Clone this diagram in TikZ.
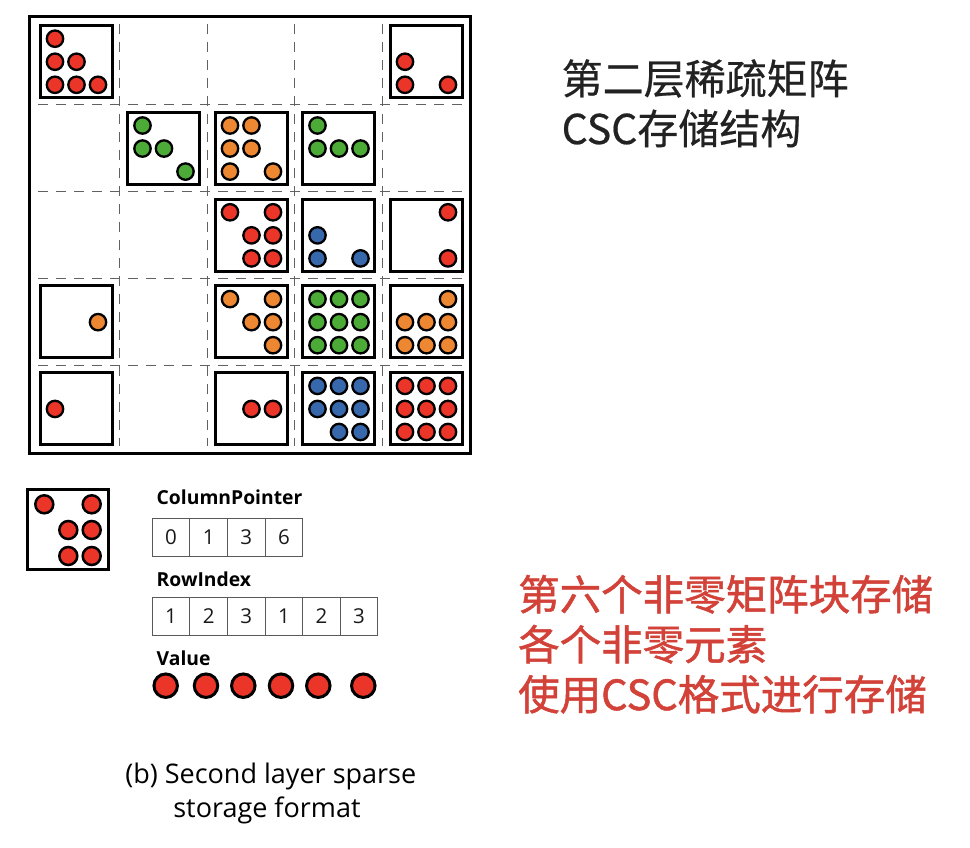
\documentclass[tikz,border=0pt]{standalone}
\usepackage{fontspec}
\setmainfont{Open Sans}
\newfontfamily\cjk[FakeBold=0.5]{Noto Sans CJK SC}
\newfontfamily\cjkred[FakeBold=1.2]{Noto Sans CJK SC}
\definecolor{dred}{RGB}{234,53,40}
\definecolor{dorange}{RGB}{238,135,50}
\definecolor{dgreen}{RGB}{76,170,54}
\definecolor{dblue}{RGB}{56,104,172}
\definecolor{tred}{RGB}{210,66,56}
\definecolor{tdark}{RGB}{34,34,34}
\newcommand{\spblk}[4]{%
  \node[blkbox] (b#1#2) at ({38.5+87.5*#2+37.5},{24+86.8*#1+37.5}) {};
  \foreach \i/\j in {#4} {
    \node[gdot, fill=#3] (d#1#2\i\j) at ({38.5+87.5*#2+16.5+21.5*\j},{24+86.8*#1+14.7+23.05*\i}) {};
  }%
}
\begin{document}
\begin{tikzpicture}[x=1pt,y=-1pt,
  blkbox/.style={draw=black, line width=3pt, minimum size=72pt, inner sep=0pt},
  gdot/.style={circle, draw=black, line width=2.3pt, minimum size=16.4pt, inner sep=0pt},
  ldot/.style={circle, draw=black, line width=2.5pt, minimum size=18pt, inner sep=0pt, fill=dred},
  vdot/.style={circle, draw=black, line width=3pt, minimum size=23.5pt, inner sep=0pt, fill=dred},
  gridline/.style={draw=black!62, line width=1.2pt, dash pattern=on 10pt off 8pt},
  tcell/.style={draw=black!65, line width=1pt, minimum width=37.6pt, minimum height=37.7pt, inner sep=0pt, font=\fontsize{20.5}{24}\selectfont, text=black!90},
  lbl/.style={anchor=base west, inner sep=0pt, font=\fontsize{19.3}{22}\selectfont\bfseries},
  cjkt/.style={anchor=base west, inner sep=0pt, font=\cjk\fontsize{41}{50}\selectfont, text=tdark},
  cjkr/.style={anchor=base west, inner sep=0pt, font=\cjkred\fontsize{41.5}{50}\selectfont, text=tred},
  captext/.style={anchor=base, inner sep=0pt, font=\fontsize{27}{32}\selectfont}
]
\useasboundingbox (0,0) rectangle (970,848);
\fill[white] (0,0) rectangle (970,848);
% outer frame
\draw[line width=3.2pt] (29.8,16.5) rectangle (470.2,453.5);
% dashed grid
\foreach \k in {0,...,3} {
  \draw[gridline] ({119.75+87.5*\k},24) -- ({119.75+87.5*\k},446);
  \draw[gridline] (38,{104.9+86.8*\k}) -- (462,{104.9+86.8*\k});
}
% blocks
\spblk{0}{0}{dred}{0/0,1/0,1/1,2/0,2/1,2/2}
\spblk{0}{4}{dred}{1/0,2/0,2/2}
\spblk{1}{1}{dgreen}{0/0,1/0,1/1,2/2}
\spblk{1}{2}{dorange}{0/0,0/1,1/0,1/1,2/0,2/2}
\spblk{1}{3}{dgreen}{0/0,1/0,1/1,1/2}
\spblk{2}{2}{dred}{0/0,0/2,1/1,1/2,2/1,2/2}
\spblk{2}{3}{dblue}{1/0,2/0,2/2}
\spblk{2}{4}{dred}{0/2,2/2}
\spblk{3}{0}{dorange}{1/2}
\spblk{3}{2}{dorange}{0/0,0/2,1/1,1/2,2/2}
\spblk{3}{3}{dgreen}{0/0,0/1,0/2,1/0,1/1,1/2,2/0,2/1,2/2}
\spblk{3}{4}{dorange}{0/2,1/0,1/1,1/2,2/0,2/1,2/2}
\spblk{4}{0}{dred}{1/0}
\spblk{4}{2}{dred}{1/1,1/2}
\spblk{4}{3}{dblue}{0/0,0/1,0/2,1/0,1/1,1/2,2/1,2/2}
\spblk{4}{4}{dred}{0/0,0/1,0/2,1/0,1/1,1/2,2/0,2/1,2/2}
% legend block
\node[draw=black, line width=3pt, minimum width=81pt, minimum height=79.4pt, inner sep=0pt] (lbox) at (68,529.5) {};
\node[ldot] (l1) at (44.3,504.3) {};
\node[ldot] (l2) at (91.7,504.3) {};
\node[ldot] (l3) at (68.3,530) {};
\node[ldot] (l4) at (91.7,530) {};
\node[ldot] (l5) at (68.3,556) {};
\node[ldot] (l6) at (91.7,556) {};
% labels
\node[lbl] (cplbl) at (156.5,504) {ColumnPointer};
\node[lbl] (rilbl) at (156.5,586) {RowIndex};
\node[lbl] (vlbl) at (156.5,665.5) {Value};
% column pointer table
\foreach \v [count=\n from 0] in {0,1,3,6} {
  \node[tcell] (cp\n) at ({171.1+37.6*\n},537.15) {\v};
}
% row index table
\foreach \v [count=\n from 0] in {1,2,3,1,2,3} {
  \node[tcell] (ri\n) at ({171.1+37.6*\n},616.15) {\v};
}
% value dots
\node[vdot] (v0) at (165.7,685.7) {};
\node[vdot] (v1) at (206,685.7) {};
\node[vdot] (v2) at (243.3,685.7) {};
\node[vdot] (v3) at (281,685.7) {};
\node[vdot] (v4) at (318.3,685.7) {};
\node[vdot] (v5) at (363.3,685.7) {};
% caption
\node[captext] (cap1) at (270.8,783) {(b) Second layer sparse};
\node[captext] (cap2) at (267,817) {storage format};
% top-right text
\node[cjkt] (t1) at (561.5,94) {第二层稀疏矩阵};
\node[cjkt] (t2) at (561.5,144) {CSC存储结构};
% red text
\node[cjkr] (r1) at (518,610) {第六个非零矩阵块存储};
\node[cjkr] (r2) at (518,660) {各个非零元素};
\node[cjkr] (r3) at (518,710) {使用CSC格式进行存储};
\end{tikzpicture}
\end{document}
